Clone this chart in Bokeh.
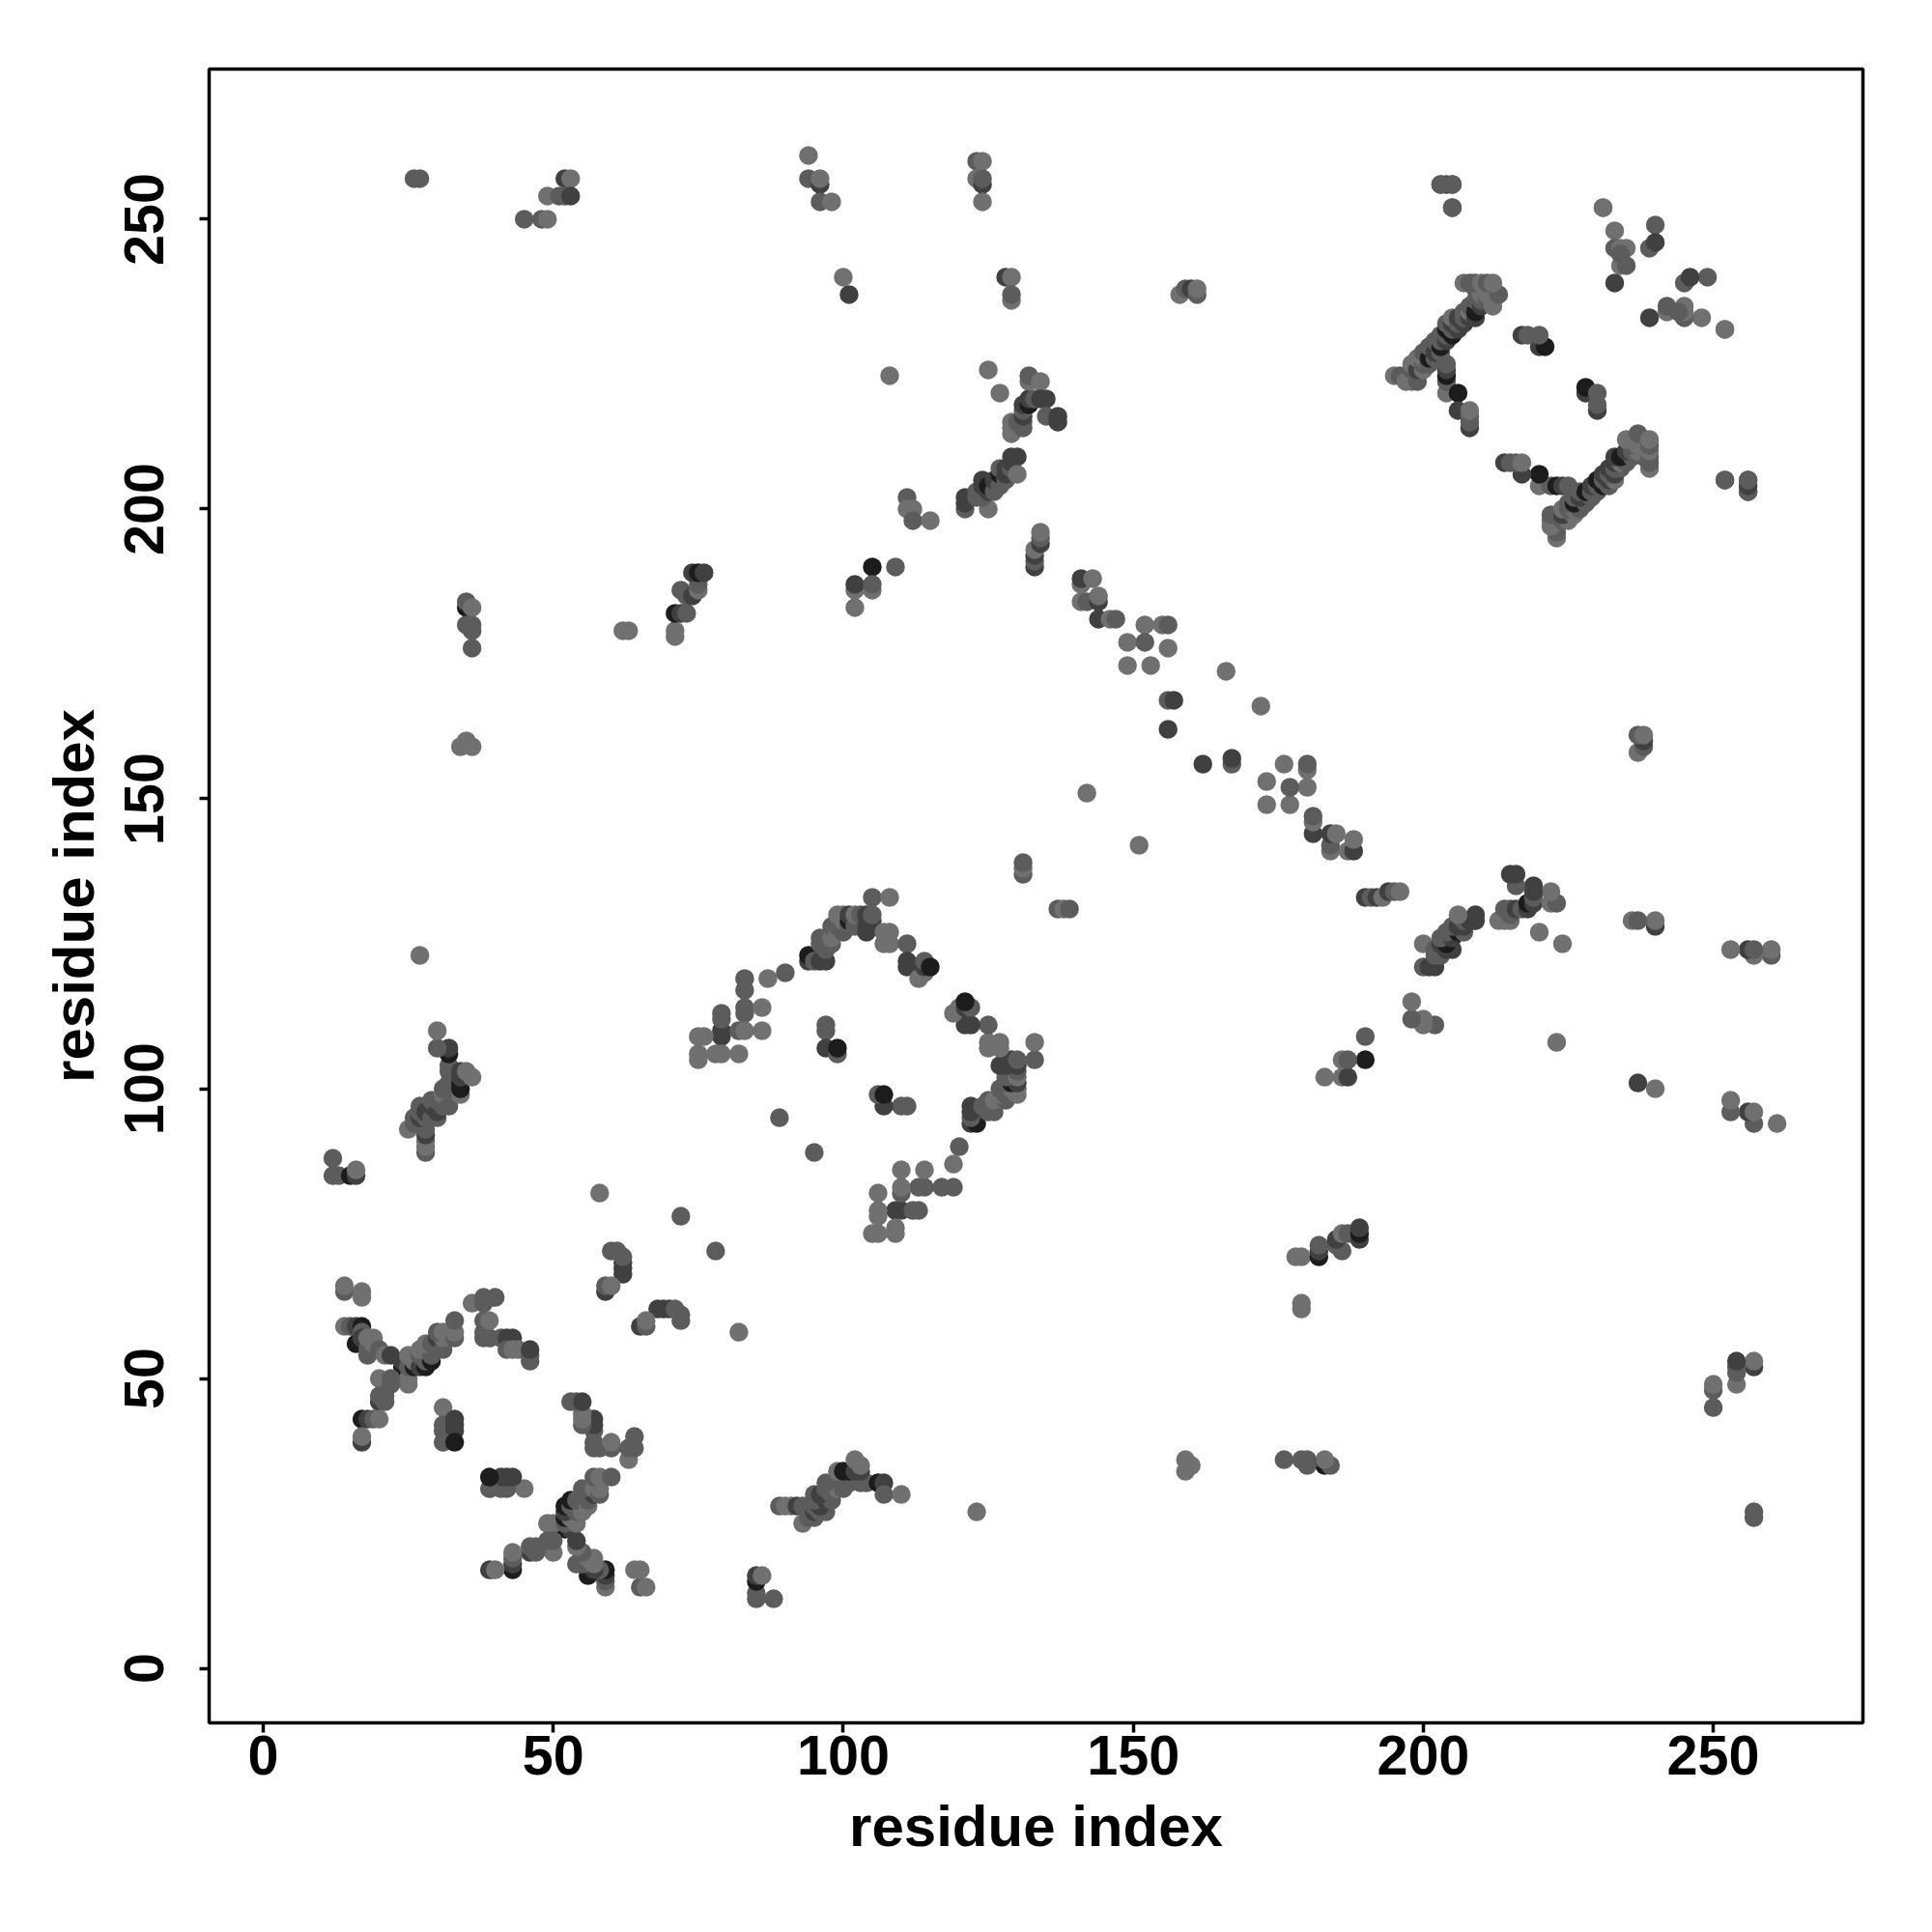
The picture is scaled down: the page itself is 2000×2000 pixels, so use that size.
from bokeh.plotting import figure
from bokeh.models import ColumnDataSource, FixedTicker
from bokeh.embed import file_html
from bokeh.resources import INLINE

# contacts (residue i, residue j, level); level 0 = weakest ... 3 = strongest
contacts_nterm = [
 (14,65,1),(14,66,0),(17,64,0),(17,65,0),(14,59,0),(15,59,1),(16,59,2),(17,59,3),(16,56,3),(17,58,1),(17,57,2),
 (18,54,1),(18,55,1),(18,57,0),(19,57,0),(19,56,0),(20,55,1),(21,54,0),(22,54,2),
 (24,52,3),(24,53,2),(25,49,0),(25,50,0),(25,52,1),(25,54,0),(26,52,3),(26,53,0),(27,52,2),(27,54,1),(28,52,3),
 (28,53,1),(27,55,0),(29,53,3),(28,55,0),(29,54,1),(28,56,0),(31,56,3),(29,56,1),(30,55,1),(30,57,2),(31,55,1),
 (31,57,0),(30,58,1),(31,58,0),(33,57,1),(33,58,0),(33,60,1),
 (20,50,0),(22,49,1),(22,50,1),(20,46,2),(20,47,1),(21,46,1),(21,47,1),
 (17,43,3),(18,43,2),(19,43,1),(20,43,0),(17,39,2),(17,40,0),
 (31,45,0),(31,42,1),(31,41,1),(33,41,2),(33,42,2),(33,43,2),(31,39,1),(33,39,3),
 (38,57,1),(38,58,1),(38,60,1),(39,57,1),(39,60,0),(41,57,1),(42,57,2),(43,57,2),(42,55,1),(43,55,0),(44,55,0),
 (46,53,1),(46,54,1),(46,55,2),(36,63,0),(38,63,1),(38,64,1),(40,64,1),
]
contacts_helix_a = [
 (28,89,1),(28,90,0),(28,91,0),(28,92,2),(28,93,1),(25,93,0),(26,94,1),(26,95,1),(27,95,2),(27,96,1),(27,97,1),
 (28,95,1),(28,96,2),(29,95,1),(29,97,2),(29,98,1),(30,95,1),(30,96,2),(30,98,1),(31,97,1),(31,99,0),(31,100,1),
 (32,97,1),(32,100,1),(32,101,1),(33,102,1),(32,103,1),(32,104,1),(32,106,3),(32,107,2),(30,107,1),(30,110,0),
 (33,99,1),(34,99,0),(34,100,3),(34,101,3),(34,102,2),(34,103,2),(35,103,0),(36,102,0),
 (27,123,0),(12,85,1),(13,85,1),(12,88,1),(15,85,3),(16,85,2),(16,86,0),
]
contacts_sheet = [
 (58,82,0),(72,78,1),(60,72,1),(61,72,1),(62,68,2),(62,69,2),(62,70,2),(62,71,1),(59,65,2),(59,66,1),(60,66,0),
 (94,122,2),(94,123,3),(95,123,3),(95,122,1),(96,122,2),(97,122,2),(96,125,1),(96,126,1),(97,124,1),(97,125,1),
 (98,125,1),(98,126,0),(98,128,1),(99,127,0),(99,128,1),(99,130,0),(100,127,1),(100,129,0),(100,130,0),(101,128,1),
 (101,129,3),(101,130,2),(102,128,1),(102,130,0),(103,130,1),(104,127,2),(104,128,2),(104,130,2),(105,129,2),(105,130,1),
 (105,133,1),(107,125,0),(107,127,0),(108,125,0),(108,127,0),(108,133,0),(111,125,1),(111,121,2),(111,122,2),
 (113,119,0),(114,120,0),(114,121,2),(114,122,1),(115,121,3),
 (83,119,1),(83,117,1),(83,113,1),(83,114,1),(86,114,0),(87,119,0),(90,120,1),(79,109,2),(79,110,2),(79,112,1),(79,113,1),
 (75,109,0),(76,109,0),(75,105,0),(75,106,0),(78,106,0),(79,106,0),(82,106,0),(82,110,1),(83,110,0),(86,110,0),
 (97,110,1),(97,111,1),(97,107,2),(99,106,1),(99,107,3),(89,95,1),
]
contacts_long = [
 (35,160,0),(34,159,0),(36,159,0),(35,183,3),(35,184,1),(36,183,0),(35,180,1),(36,179,1),(36,180,1),(36,176,1),
 (62,179,0),(63,179,0),(71,178,0),(71,179,0),(71,182,3),(72,182,2),(73,182,1),(72,186,1),(73,185,1),(74,185,2),
 (75,186,0),(75,187,1),(74,189,2),(75,189,3),(76,189,2),
 (105,190,3),(109,190,1),(102,186,0),(102,187,2),(102,183,0),(105,186,0),(105,187,1),
 (26,257,1),(27,257,1),(52,257,2),(53,257,0),(49,254,0),(51,254,1),(52,254,1),(53,254,2),(45,250,1),(48,250,1),(49,250,0),
 (94,261,0),(94,257,1),(96,256,2),(96,257,0),(96,253,1),(98,253,0),(100,240,0),(101,237,2),(108,223,0),
 (123,260,1),(124,260,0),(123,257,0),(124,256,2),(124,257,1),(124,253,0),(128,240,2),(129,240,0),(129,236,0),(129,237,1),
 (131,137,1),(131,138,0),(131,139,1),(133,190,2),(133,191,1),(133,192,2),(133,193,0),(134,194,2),(134,195,1),(134,196,0),
 (125,224,0),(127,220,0),(125,200,0),(121,200,1),(121,201,2),(121,202,2),(122,202,2),(123,202,1),(123,203,1),(124,202,1),
 (124,204,2),(124,205,2),(125,203,2),(125,204,3),(126,203,1),(126,205,2),(127,204,1),(127,206,3),(127,207,1),(128,205,1),
 (128,206,2),(128,207,2),(129,207,1),(129,208,2),(129,209,2),(130,209,2),(130,206,0),
 (129,213,0),(129,214,0),(129,215,0),(130,215,1),(131,214,1),(131,215,1),(131,216,2),(131,217,1),(131,218,2),(132,218,3),
 (132,219,2),(133,219,1),(132,222,0),(132,223,1),(134,222,0),(134,219,2),(135,219,2),(135,216,1),(137,215,2),(137,216,2),
 (111,202,1),(111,200,0),(112,200,0),(112,198,1),(115,198,0),
]
contacts_cterm = [
 (141,187,0),(141,188,2),(143,188,0),(141,184,0),(142,184,1),(144,184,2),(144,185,0),(144,181,2),(146,181,0),(147,181,1),
 (152,180,0),(155,180,0),(156,180,1),(149,177,0),(152,177,1),(156,176,0),(149,173,0),(153,173,0),(166,172,0),
 (156,167,1),(157,167,2),(156,162,2),(142,151,0),
 (158,237,0),(159,238,1),(160,238,2),(161,237,1),(161,238,0),
 (203,256,1),(204,256,2),(205,256,1),(205,252,1),(231,252,0),(233,248,0),(233,245,1),(234,245,0),(235,245,0),(234,242,0),
 (234,244,1),(235,242,1),(233,239,2),(240,249,1),(239,245,1),(240,246,2),(231,252,0),
 (252,205,1),(256,203,1),(256,205,1),
 (195,223,0),(196,223,1),(197,222,0),(198,222,0),(198,224,1),(198,225,0),(199,222,1),(199,224,2),(199,226,0),
 (200,224,0),(200,225,1),(200,226,0),(200,227,1),(201,225,1),(201,226,3),(201,228,1),(202,226,1),(202,227,2),(202,229,1),
 (203,227,1),(203,228,3),(203,229,1),(203,230,1),(204,229,2),(204,230,1),(204,231,3),(204,232,1),
 (205,230,3),(205,231,1),(205,232,2),(205,233,0),(206,231,2),(206,232,1),(206,233,2),
 (207,232,2),(207,233,1),(207,234,1),(208,233,2),(208,234,0),(208,235,1),(209,233,2),(209,234,3),(209,236,1),(209,238,1),
 (210,235,2),(210,236,1),(210,237,0),(211,236,1),(211,237,0),(211,238,0),(212,235,0),(212,237,0),(213,237,1),
 (207,239,0),(208,239,1),(209,239,1),(210,239,0),(211,239,1),(212,239,0),
 (204,220,0),(204,222,1),(204,223,3),(204,224,2),(204,225,1),(206,220,3),(206,217,2),(208,214,2),(208,215,1),(208,216,1),(208,217,0),
 (228,220,2),(228,221,3),(230,217,2),(230,218,1),(230,220,1),
]

level_greys = ["#707070", "#5c5c5c", "#404040", "#1c1c1c"]
tick_values = [0, 50, 100, 150, 200, 250]
x_label = "residue index"
y_label = "residue index"

contacts = contacts_nterm + contacts_helix_a + contacts_sheet + contacts_long + contacts_cterm
xs = [c[0] for c in contacts] + [c[1] for c in contacts]
ys = [c[1] for c in contacts] + [c[0] for c in contacts]
cols = [level_greys[c[2]] for c in contacts] * 2

p = figure(width=1975, height=1980, output_backend="svg", toolbar_location=None,
           x_range=(-9.33, 275.8), y_range=(-9.4, 275.9),
           min_border_left=216, min_border_right=47, min_border_top=71, min_border_bottom=197,
           background_fill_color="white")
p.scatter(x="x", y="y", source=ColumnDataSource(dict(x=xs, y=ys, c=cols)),
          size=19.5, fill_color="c", line_color=None, marker="circle")

p.grid.visible = False
p.outline_line_color = "black"
p.outline_line_width = 3.5
p.outline_line_alpha = 1

for ax, lab in ((p.xaxis[0], x_label), (p.yaxis[0], y_label)):
    ax.ticker = FixedTicker(ticks=tick_values)
    ax.axis_line_color = None
    ax.minor_tick_line_color = None
    ax.major_tick_line_color = "black"
    ax.major_tick_line_width = 3.5
    ax.major_tick_out = 10
    ax.major_tick_in = 0
    ax.major_label_text_font = "Liberation Sans"
    ax.major_label_text_font_style = "bold"
    ax.major_label_text_font_size = "57.5px"
    ax.major_label_text_color = "black"
    ax.axis_label = lab
    ax.axis_label_text_font = "Liberation Sans"
    ax.axis_label_text_font_style = "bold"
    ax.axis_label_text_font_size = "60px"
    ax.axis_label_text_color = "black"
p.yaxis[0].major_label_orientation = "vertical"
p.xaxis[0].major_label_standoff = 3
p.xaxis[0].axis_label_standoff = 17
p.yaxis[0].major_label_standoff = 37
p.yaxis[0].axis_label_standoff = 17

open("out.html", "w").write(file_html(p, INLINE))
